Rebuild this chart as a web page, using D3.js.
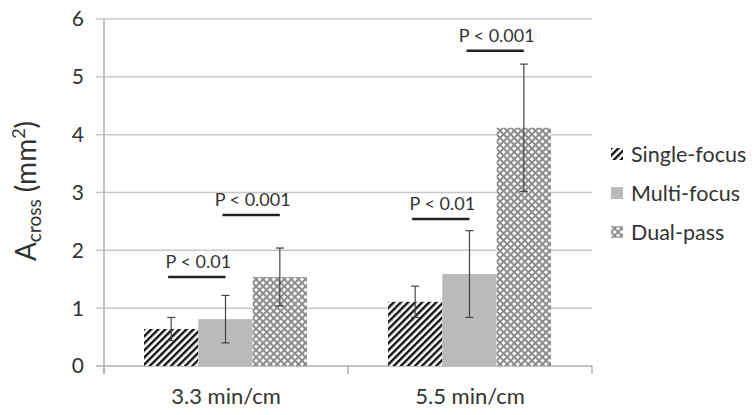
<!DOCTYPE html>
<html>
<head>
<meta charset="utf-8">
<script src="https://cdn.jsdelivr.net/npm/d3@7"></script>
<style>
  body { margin: 0; background: #fff; }
  svg text { font-family: Lato, "Open Sans", sans-serif; fill: #333; }
</style>
</head>
<body>
<div id="chart"></div>
<script>
// data
var categories = ["3.3 min/cm", "5.5 min/cm"];
var series = ["Single-focus", "Multi-focus", "Dual-pass"];
var means = [[0.64, 0.81, 1.54], [1.11, 1.59, 4.12]];
var errors = [[0.20, 0.41, 0.50], [0.27, 0.75, 1.10]];
var yTicks = [0, 1, 2, 3, 4, 5, 6];
// significance bars: category, from series, to series, height, label
var sigs = [
  {cat: 0, a: 0, b: 1, y: 1.54, label: "P < 0.01"},
  {cat: 0, a: 1, b: 2, y: 2.61, label: "P < 0.001"},
  {cat: 1, a: 0, b: 1, y: 2.54, label: "P < 0.01"},
  {cat: 1, a: 1, b: 2, y: 5.45, label: "P < 0.001"}
];

var width = 755, height = 415;
var plotLeft = 104, plotRight = 592, plotTop = 19, plotBottom = 366;

var svg = d3.select("#chart").append("svg")
    .attr("width", width)
    .attr("height", height);

var defs = svg.append("defs");

// diagonal stripes
var stripe = defs.append("pattern")
    .attr("id", "stripe")
    .attr("patternUnits", "userSpaceOnUse")
    .attr("width", 5).attr("height", 5)
    .attr("patternTransform", "rotate(45)");
stripe.append("rect").attr("width", 5).attr("height", 5).attr("fill", "#fff");
stripe.append("rect").attr("width", 2.4).attr("height", 5).attr("fill", "#111");

// checker / dotted diamond
var check = defs.append("pattern")
    .attr("id", "check")
    .attr("patternUnits", "userSpaceOnUse")
    .attr("width", 5).attr("height", 5)
    .attr("patternTransform", "rotate(45)");
check.append("rect").attr("width", 5).attr("height", 5).attr("fill", "#8c8c8c");
check.append("rect").attr("x", 1).attr("y", 1).attr("width", 3).attr("height", 3).attr("fill", "#fff");

var fills = ["url(#stripe)", "#bababa", "url(#check)"];

var y = d3.scaleLinear().domain([0, 6]).range([plotBottom, plotTop]);
var x0 = d3.scaleBand().domain(d3.range(categories.length)).range([plotLeft, plotRight]);
var x1 = d3.scaleBand().domain(d3.range(series.length)).range([40, x0.bandwidth() - 41]);

// gridlines
svg.append("g")
  .selectAll("line")
  .data(yTicks)
  .enter().append("line")
    .attr("x1", plotLeft - 8)
    .attr("x2", plotRight)
    .attr("y1", function(d) { return y(d); })
    .attr("y2", function(d) { return y(d); })
    .attr("stroke", function(d) { return d === 0 ? "#b0b0b0" : "#c8c8c8"; })
    .attr("stroke-width", 1.5);

// y axis line
svg.append("line")
    .attr("x1", plotLeft).attr("x2", plotLeft)
    .attr("y1", y(6)).attr("y2", y(0) + 8)
    .attr("stroke", "#b0b0b0").attr("stroke-width", 1.5);

// category ticks below
svg.append("g")
  .selectAll("line")
  .data([plotLeft, plotLeft + x0.bandwidth(), plotRight])
  .enter().append("line")
    .attr("x1", function(d) { return d; })
    .attr("x2", function(d) { return d; })
    .attr("y1", plotBottom).attr("y2", plotBottom + 8)
    .attr("stroke", "#b0b0b0").attr("stroke-width", 1.5);

// tick labels
svg.append("g")
  .selectAll("text")
  .data(yTicks)
  .enter().append("text")
    .attr("x", 84)
    .attr("y", function(d) { return y(d); })
    .attr("dy", "0.35em")
    .attr("text-anchor", "end")
    .attr("font-size", 21)
    .text(function(d) { return d; });

svg.append("g")
  .selectAll("text")
  .data(categories)
  .enter().append("text")
    .attr("x", function(d, i) { return x0(i) + x0.bandwidth() / 2; })
    .attr("y", 404)
    .attr("text-anchor", "middle")
    .attr("font-size", 22)
    .text(function(d) { return d; });

// bars
var groups = svg.selectAll(".grp")
    .data(categories)
  .enter().append("g")
    .attr("class", "grp")
    .attr("transform", function(d, i) { return "translate(" + x0(i) + ",0)"; });

groups.each(function(c, ci) {
  var g = d3.select(this);
  g.selectAll("rect")
      .data(series)
    .enter().append("rect")
      .attr("x", function(d, si) { return x1(si); })
      .attr("width", x1.bandwidth())
      .attr("y", function(d, si) { return y(means[ci][si]); })
      .attr("height", function(d, si) { return y(0) - y(means[ci][si]); })
      .attr("fill", function(d, si) { return fills[si]; });

  var eb = g.selectAll(".eb")
      .data(series)
    .enter().append("g")
      .attr("class", "eb")
      .attr("stroke", "#444")
      .attr("stroke-width", 1.2);
  eb.append("line")
      .attr("x1", function(d, si) { return x1(si) + x1.bandwidth() / 2; })
      .attr("x2", function(d, si) { return x1(si) + x1.bandwidth() / 2; })
      .attr("y1", function(d, si) { return y(means[ci][si] + errors[ci][si]); })
      .attr("y2", function(d, si) { return y(means[ci][si] - errors[ci][si]); });
  [1, -1].forEach(function(sgn) {
    eb.append("line")
        .attr("x1", function(d, si) { return x1(si) + x1.bandwidth() / 2 - 4; })
        .attr("x2", function(d, si) { return x1(si) + x1.bandwidth() / 2 + 4; })
        .attr("y1", function(d, si) { return y(means[ci][si] + sgn * errors[ci][si]); })
        .attr("y2", function(d, si) { return y(means[ci][si] + sgn * errors[ci][si]); });
  });
});

// significance markers
var sg = svg.selectAll(".sig")
    .data(sigs)
  .enter().append("g")
    .attr("class", "sig");
function cx(cat, s) { return x0(cat) + x1(s) + x1.bandwidth() / 2; }
sg.append("line")
    .attr("x1", function(d) { return cx(d.cat, d.a) - 3; })
    .attr("x2", function(d) { return cx(d.cat, d.b); })
    .attr("y1", function(d) { return y(d.y); })
    .attr("y2", function(d) { return y(d.y); })
    .attr("stroke", "#222")
    .attr("stroke-width", 2.5);
sg.append("text")
    .attr("x", function(d) { return (cx(d.cat, d.a) + cx(d.cat, d.b)) / 2; })
    .attr("y", function(d) { return y(d.y) - 9; })
    .attr("text-anchor", "middle")
    .attr("font-size", 18)
    .text(function(d) { return d.label; });

// y axis title
var title = svg.append("text")
    .attr("transform", "translate(36,191) rotate(-90)")
    .attr("text-anchor", "middle")
    .attr("font-size", 28);
title.append("tspan").text("A");
title.append("tspan").attr("font-size", 19).attr("dy", 5).text("cross");
title.append("tspan").attr("dy", -5).text(" (mm");
title.append("tspan").attr("font-size", 18).attr("dy", -11).text("2");
title.append("tspan").attr("dy", 11).text(")");

// legend
var leg = svg.selectAll(".leg")
    .data(series)
  .enter().append("g")
    .attr("class", "leg")
    .attr("transform", function(d, i) { return "translate(611," + (154 + i * 39) + ")"; });
leg.append("rect")
    .attr("x", 0).attr("y", -6)
    .attr("width", 12).attr("height", 12)
    .attr("fill", function(d, i) { return fills[i]; });
leg.append("text")
    .attr("x", 20)
    .attr("dy", "0.35em")
    .attr("font-size", 21.5)
    .text(function(d) { return d; });
</script>
</body>
</html>
